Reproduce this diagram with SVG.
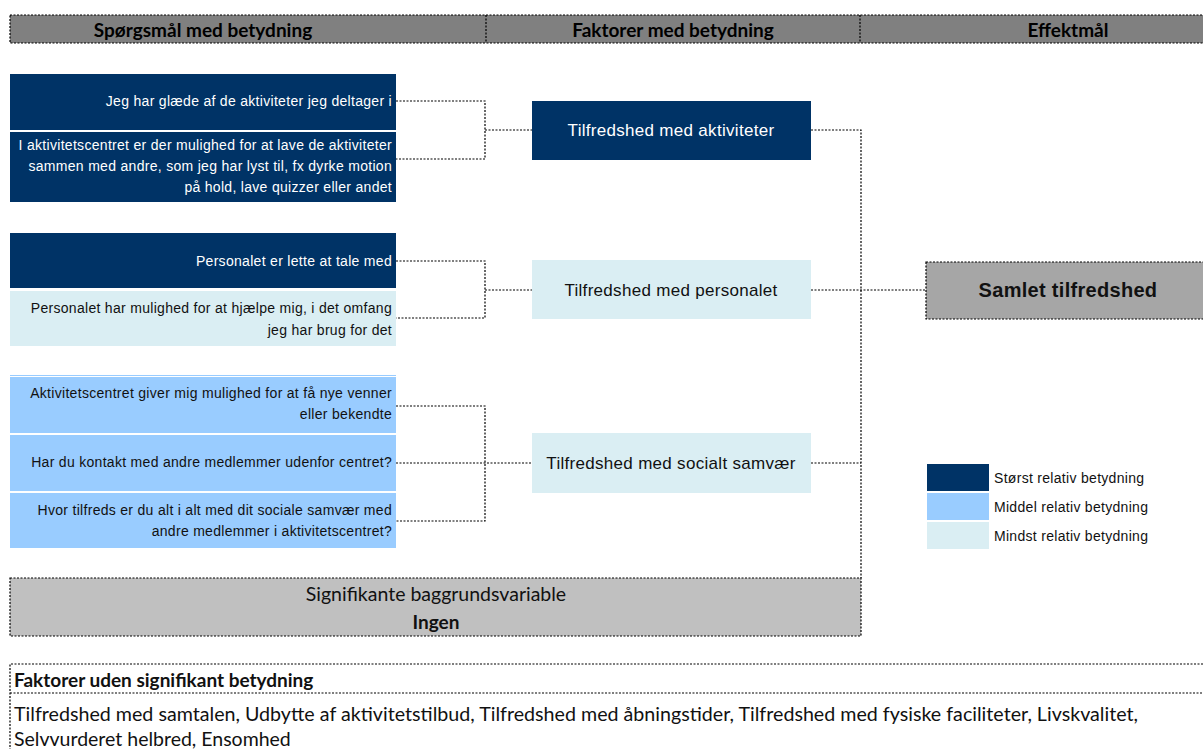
<svg xmlns="http://www.w3.org/2000/svg" width="1203" height="749" viewBox="0 0 1203 749">
<style>
.dot{fill:none;stroke:#000;stroke-width:1.2;stroke-dasharray:2 1.5}
.q{font-family:"Liberation Sans",Arial,sans-serif;font-size:14px;letter-spacing:0.3px;text-anchor:end}
.w{fill:#fff}
.k{fill:#111}
.f{font-family:"Liberation Sans",Arial,sans-serif;font-size:17px;letter-spacing:0.3px;text-anchor:middle}
.c{font-family:Lato,"Open Sans",sans-serif;font-size:19.5px}
.cb{font-family:Lato,"Open Sans",sans-serif;font-size:19px;font-weight:bold}
.lg{font-family:"Liberation Sans",Arial,sans-serif;font-size:14px;letter-spacing:0.3px;fill:#111}
</style>
<rect width="1203" height="749" fill="#fff"/>
<g id="header">
<rect x="10" y="15" width="1200" height="28" class="dot" style="fill:#808080"/>
<line x1="486" y1="15" x2="486" y2="43" class="dot"/>
<line x1="860" y1="15" x2="860" y2="43" class="dot"/>
<text x="203" y="37" class="cb" text-anchor="middle">Spørgsmål med betydning</text>
<text x="673" y="37" class="cb" text-anchor="middle">Faktorer med betydning</text>
<text x="1068" y="37" class="cb" text-anchor="middle">Effektmål</text>
</g>
<g id="connectors">
<polyline points="396,101 485,101 485,159 396,159" class="dot"/>
<line x1="485" y1="130" x2="532" y2="130" class="dot"/>
<polyline points="396,261 485,261 485,318 396,318" class="dot"/>
<line x1="485" y1="290" x2="532" y2="290" class="dot"/>
<polyline points="396,406 485,406 485,521 396,521" class="dot"/>
<line x1="396" y1="463" x2="532" y2="463" class="dot"/>
<polyline points="811,130 861,130 861,578" class="dot"/>
<line x1="811" y1="290" x2="926" y2="290" class="dot"/>
<line x1="811" y1="463" x2="861" y2="463" class="dot"/>
</g>
<g id="q1"><rect x="10" y="74" width="386" height="56" fill="#003366"/><text x="392" y="106" class="q w">Jeg har glæde af de aktiviteter jeg deltager i</text></g>
<g id="q2"><rect x="10" y="132" width="386" height="70" fill="#003366"/>
<text x="392" y="150" class="q w">I aktivitetscentret er der mulighed for at lave de aktiviteter</text>
<text x="392" y="171" class="q w">sammen med andre, som jeg har lyst til, fx dyrke motion</text>
<text x="392" y="192" class="q w">på hold, lave quizzer eller andet</text></g>
<g id="q3"><rect x="10" y="233" width="386" height="55" fill="#003366"/><text x="392" y="266" class="q w">Personalet er lette at tale med</text></g>
<g id="q4"><rect x="10" y="291" width="386" height="55" fill="#DAEEF3"/>
<text x="392" y="313" class="q k">Personalet har mulighed for at hjælpe mig, i det omfang</text>
<text x="392" y="335" class="q k">jeg har brug for det</text></g>
<g id="q5"><line x1="10" y1="375.5" x2="396" y2="375.5" stroke="#99CCFF" stroke-width="1"/><rect x="10" y="377" width="386" height="56" fill="#99CCFF"/>
<text x="392" y="398" class="q k">Aktivitetscentret giver mig mulighed for at få nye venner</text>
<text x="392" y="419" class="q k">eller bekendte</text></g>
<g id="q6"><rect x="10" y="435" width="386" height="56" fill="#99CCFF"/><text x="392" y="467" class="q k">Har du kontakt med andre medlemmer udenfor centret?</text></g>
<g id="q7"><rect x="10" y="493" width="386" height="55" fill="#99CCFF"/>
<text x="392" y="515" class="q k">Hvor tilfreds er du alt i alt med dit sociale samvær med</text>
<text x="392" y="536" class="q k">andre medlemmer i aktivitetscentret?</text></g>
<g id="f1"><rect x="532" y="101" width="279" height="59" fill="#003366"/><text x="671" y="136" class="f w">Tilfredshed med aktiviteter</text></g>
<g id="f2"><rect x="532" y="260" width="279" height="59" fill="#DAEEF3"/><text x="671" y="296" class="f k">Tilfredshed med personalet</text></g>
<g id="f3"><rect x="532" y="433" width="279" height="60" fill="#DAEEF3"/><text x="671" y="469" class="f k">Tilfredshed med socialt samvær</text></g>
<g id="samlet"><rect x="926" y="262" width="280" height="57" class="dot" style="fill:#A6A6A6"/>
<text x="1068" y="297" font-family="Liberation Sans,Arial,sans-serif" font-size="20" letter-spacing="0.3" font-weight="bold" text-anchor="middle" fill="#111">Samlet tilfredshed</text></g>
<g id="legend">
<rect x="927" y="464" width="62" height="27" fill="#003366"/><text x="994" y="483" class="lg">Størst relativ betydning</text>
<rect x="927" y="493" width="62" height="27" fill="#99CCFF"/><text x="994" y="512" class="lg">Middel relativ betydning</text>
<rect x="927" y="522" width="62" height="27" fill="#DAEEF3"/><text x="994" y="541" class="lg">Mindst relativ betydning</text>
</g>
<g id="baggrund"><rect x="10" y="578" width="851" height="58" class="dot" style="fill:#C0C0C0"/>
<text x="436" y="601" class="c" text-anchor="middle" fill="#111">Signifikante baggrundsvariable</text>
<text x="436" y="629" class="cb" text-anchor="middle" fill="#111">Ingen</text></g>
<g id="uden">
<polyline points="1210,664 10,664 10,760" class="dot"/>
<line x1="10" y1="693" x2="1210" y2="693" class="dot"/>
<text x="14" y="687" class="cb" fill="#111">Faktorer uden signifikant betydning</text>
<text x="14" y="721" class="c" fill="#111" textLength="1124" lengthAdjust="spacingAndGlyphs">Tilfredshed med samtalen, Udbytte af aktivitetstilbud, Tilfredshed med åbningstider, Tilfredshed med fysiske faciliteter, Livskvalitet,</text>
<text x="14" y="746" class="c" fill="#111">Selvvurderet helbred, Ensomhed</text>
</g>
</svg>
